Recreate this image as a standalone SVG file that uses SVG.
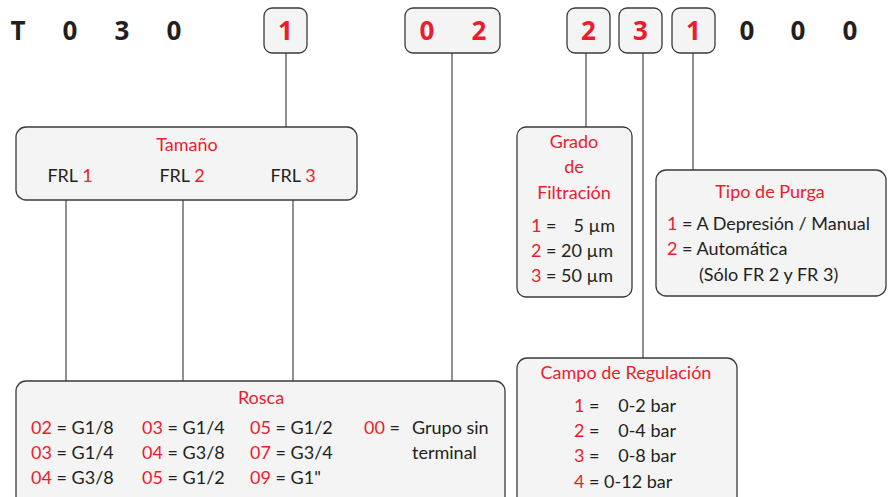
<svg xmlns="http://www.w3.org/2000/svg" width="894" height="497" viewBox="0 0 894 497">
<style>
.box{fill:#f4f4f4;stroke:#3a3a3a;stroke-width:1.3}
.t{font-family:Lato,"Liberation Sans",sans-serif;font-size:18px;fill:#231f20}
.r{fill:#ec1c2c}
.big{font-family:"Open Sans","Liberation Sans",sans-serif;font-size:26px;font-weight:bold;fill:#231f20}
.bigr{font-family:"Open Sans","Liberation Sans",sans-serif;font-size:26px;font-weight:bold;fill:#ec1c2c}
.ln{stroke:#555;stroke-width:1.3;fill:none}
</style>
<rect width="894" height="497" fill="#fff"/>
<g id="code">
<text class="big" x="18" y="40" text-anchor="middle">T</text>
<text class="big" x="70" y="40" text-anchor="middle">0</text>
<text class="big" x="122" y="40" text-anchor="middle">3</text>
<text class="big" x="174" y="40" text-anchor="middle">0</text>
<text class="big" x="747" y="40" text-anchor="middle">0</text>
<text class="big" x="798" y="40" text-anchor="middle">0</text>
<text class="big" x="850" y="40" text-anchor="middle">0</text>
</g>
<g id="connectors">
<line class="ln" x1="286" y1="53" x2="286" y2="127"/>
<line class="ln" x1="452" y1="53" x2="452" y2="381"/>
<line class="ln" x1="586" y1="53" x2="586" y2="127"/>
<line class="ln" x1="643" y1="53" x2="643" y2="358"/>
<line class="ln" x1="693" y1="53" x2="693" y2="170"/>
<line class="ln" x1="66" y1="200" x2="66" y2="381"/>
<line class="ln" x1="183" y1="200" x2="183" y2="381"/>
<line class="ln" x1="293" y1="200" x2="293" y2="381"/>
</g>
<g id="d1"><rect class="box" x="264" y="8" width="43" height="45" rx="8"/><text class="bigr" x="285.5" y="40" text-anchor="middle">1</text></g>
<g id="d02"><rect class="box" x="405" y="8" width="95" height="45" rx="8"/><text class="bigr" x="427" y="40" text-anchor="middle">0</text><text class="bigr" x="479" y="40" text-anchor="middle">2</text></g>
<g id="d2"><rect class="box" x="567" y="8" width="43" height="45" rx="8"/><text class="bigr" x="588.5" y="40" text-anchor="middle">2</text></g>
<g id="d3"><rect class="box" x="619" y="8" width="43" height="45" rx="8"/><text class="bigr" x="640.5" y="40" text-anchor="middle">3</text></g>
<g id="d1b"><rect class="box" x="672" y="8" width="43" height="45" rx="8"/><text class="bigr" x="693.5" y="40" text-anchor="middle">1</text></g>
<g id="tamano">
<rect class="box" x="16" y="127" width="341" height="73" rx="10"/>
<text class="t r" x="187" y="151" text-anchor="middle">Tamaño</text>
<text class="t" x="70" y="182" text-anchor="middle">FRL <tspan class="r">1</tspan></text>
<text class="t" x="182" y="182" text-anchor="middle">FRL <tspan class="r">2</tspan></text>
<text class="t" x="293" y="182" text-anchor="middle">FRL <tspan class="r">3</tspan></text>
</g>
<g id="grado">
<rect class="box" x="517" y="127" width="115" height="170" rx="9"/>
<text class="t r" x="574" y="148" text-anchor="middle">Grado</text>
<text class="t r" x="574" y="173" text-anchor="middle">de</text>
<text class="t r" x="574" y="199" text-anchor="middle">Filtración</text>
<text class="t" x="531" y="232"><tspan class="r">1</tspan> =</text><text class="t" x="615" y="232" text-anchor="end">5 µm</text>
<text class="t" x="531" y="257"><tspan class="r">2</tspan> = 20 µm</text>
<text class="t" x="531" y="282"><tspan class="r">3</tspan> = 50 µm</text>
</g>
<g id="tipo">
<rect class="box" x="656" y="170" width="230" height="126" rx="10"/>
<text class="t r" x="770" y="198" text-anchor="middle">Tipo de Purga</text>
<text class="t" x="667" y="230"><tspan class="r">1</tspan> = A Depresión / Manual</text>
<text class="t" x="667" y="255"><tspan class="r">2</tspan> = Automática</text>
<text class="t" x="699" y="281">(Sólo FR 2 y FR 3)</text>
</g>
<g id="rosca">
<rect class="box" x="16" y="381" width="489" height="130" rx="10"/>
<text class="t r" x="261" y="404" text-anchor="middle">Rosca</text>
<text class="t" x="31" y="434"><tspan class="r">02</tspan> = G1/8</text>
<text class="t" x="31" y="459"><tspan class="r">03</tspan> = G1/4</text>
<text class="t" x="31" y="484"><tspan class="r">04</tspan> = G3/8</text>
<text class="t" x="142" y="434"><tspan class="r">03</tspan> = G1/4</text>
<text class="t" x="142" y="459"><tspan class="r">04</tspan> = G3/8</text>
<text class="t" x="142" y="484"><tspan class="r">05</tspan> = G1/2</text>
<text class="t" x="250" y="434"><tspan class="r">05</tspan> = G1/2</text>
<text class="t" x="250" y="459"><tspan class="r">07</tspan> = G3/4</text>
<text class="t" x="250" y="484"><tspan class="r">09</tspan> = G1"</text>
<text class="t" x="364" y="434"><tspan class="r">00</tspan> =</text>
<text class="t" x="412" y="434">Grupo sin</text>
<text class="t" x="412" y="459">terminal</text>
</g>
<g id="campo">
<rect class="box" x="517" y="358" width="220" height="150" rx="10"/>
<text class="t r" x="626" y="379" text-anchor="middle">Campo de Regulación</text>
<text class="t" x="574" y="412"><tspan class="r">1</tspan> =</text><text class="t" x="676" y="412" text-anchor="end">0-2 bar</text>
<text class="t" x="574" y="437"><tspan class="r">2</tspan> =</text><text class="t" x="676" y="437" text-anchor="end">0-4 bar</text>
<text class="t" x="574" y="462"><tspan class="r">3</tspan> =</text><text class="t" x="676" y="462" text-anchor="end">0-8 bar</text>
<text class="t" x="574" y="488"><tspan class="r">4</tspan> = 0-12 bar</text>
</g>
</svg>
